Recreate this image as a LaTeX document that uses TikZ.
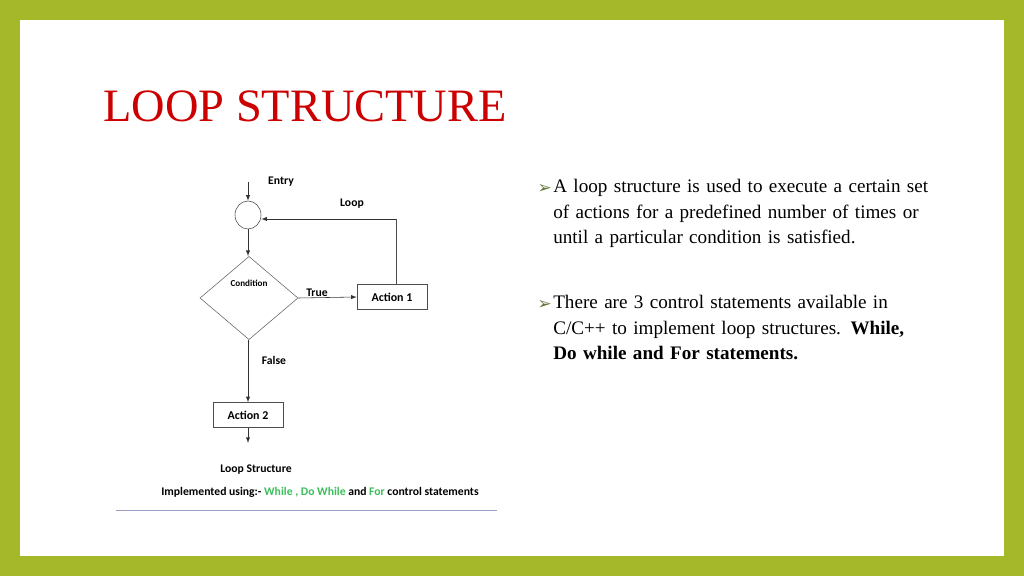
\documentclass[tikz,border=0pt]{standalone}
\usepackage{fontspec}
\setmainfont{Liberation Serif}
\newfontfamily\flowfont{Carlito}
\newfontfamily\symfont{DejaVu Sans}
\usepackage{tikz}
\usetikzlibrary{shapes.geometric, arrows, positioning}
\definecolor{framegreen}{RGB}{164,184,42}
\definecolor{titlered}{RGB}{204,0,0}
\definecolor{bulletgreen}{RGB}{100,120,60}
\definecolor{kwgreen}{RGB}{60,190,90}
\tikzstyle{action} = [rectangle, minimum width=1.75cm, minimum height=0.62cm, draw=black!70, font=\flowfont\bfseries\fontsize{8.5}{9}\selectfont, text depth=0pt, inner sep=2pt]
\tikzstyle{decision} = [diamond, minimum width=2.45cm, minimum height=2.08cm, draw=black!60, inner sep=0pt]
\tikzstyle{junction} = [ellipse, minimum width=0.65cm, minimum height=0.7cm, draw=black!70]
\tikzstyle{lbl} = [font=\flowfont\bfseries\fontsize{8.3}{9}\selectfont]
\tikzstyle{arrow} = [black!80, ->, >=latex]
\tikzstyle{bullet} = [anchor=north west, text width=9.4cm, align=left, font=\fontsize{13.6}{18.1}\selectfont, inner sep=0pt]

\begin{document}
\begin{tikzpicture}[x=0.025cm, y=-0.025cm]
        % Frame
        \fill[framegreen] (0,0) rectangle (1024,576);
        \fill[white] (20,20) rectangle (1004,556);

        % Title
        \node (title) [anchor=west, text=titlered, font=\fontsize{33}{35}\selectfont, inner sep=0pt] at (103,106) {LOOP STRUCTURE};

        % Bullets
        \node (b1) [bullet] at (553,179) {A loop structure is used to execute a certain set of actions for a predefined number of times or until a particular condition is satisfied.};
        \node (m1) [anchor=east, text=bulletgreen, font=\symfont\fontsize{12}{12}\selectfont, inner sep=0pt] at (552,189) {➢};
        \node (b2) [bullet] at (553,295) {There are 3 control statements available in C/C++ to implement loop structures. \textbf{While, Do while and For statements.}};
        \node (m2) [anchor=east, text=bulletgreen, font=\symfont\fontsize{12}{12}\selectfont, inner sep=0pt] at (552,305) {➢};

        % Flowchart
        \coordinate (in) at (248,182);
        \node (join) [junction] at (248,215) {};
        \node (cond) [decision] at (249,298) {};
        \node [lbl, font=\flowfont\bfseries\fontsize{6.5}{7}\selectfont] at (249,283) {Condition};
        \node (act1) [action] at (392,297) {Action 1};
        \node (act2) [action] at (248,415) {Action 2};
        \coordinate (out) at (248,443);
        \coordinate (up) at (396,219);

        % Arrows
        \draw [arrow] (in) -- (join.north);
        \draw [arrow] (join.south) -- (join.south |- cond.north);
        \draw [arrow] (cond.east) -- (act1.west);
        \draw [black!70] (act1.north -| up) -- (up);
        \draw [arrow] (up) -- (join.east |- up);
        \draw [arrow] (cond.south -| act2) -- (act2.north);
        \draw [arrow] (act2.south) -- (out);

        % Labels
        \node (entry) [lbl] at (281,182) {Entry};
        \node (loop) [lbl] at (352,204) {Loop};
        \node (true) [lbl] at (317,293) {True};
        \node (false) [lbl] at (274,360) {False};
        \node (cap) [lbl] at (256,470) {Loop Structure};
        \node (impl) [lbl] at (320,492) {Implemented using:- \textcolor{kwgreen}{While , Do While} and \textcolor{kwgreen}{For} control statements};
        \draw [blue!30!gray!60, thin] (116,510) -- (497,510);
\end{tikzpicture}
\end{document}
